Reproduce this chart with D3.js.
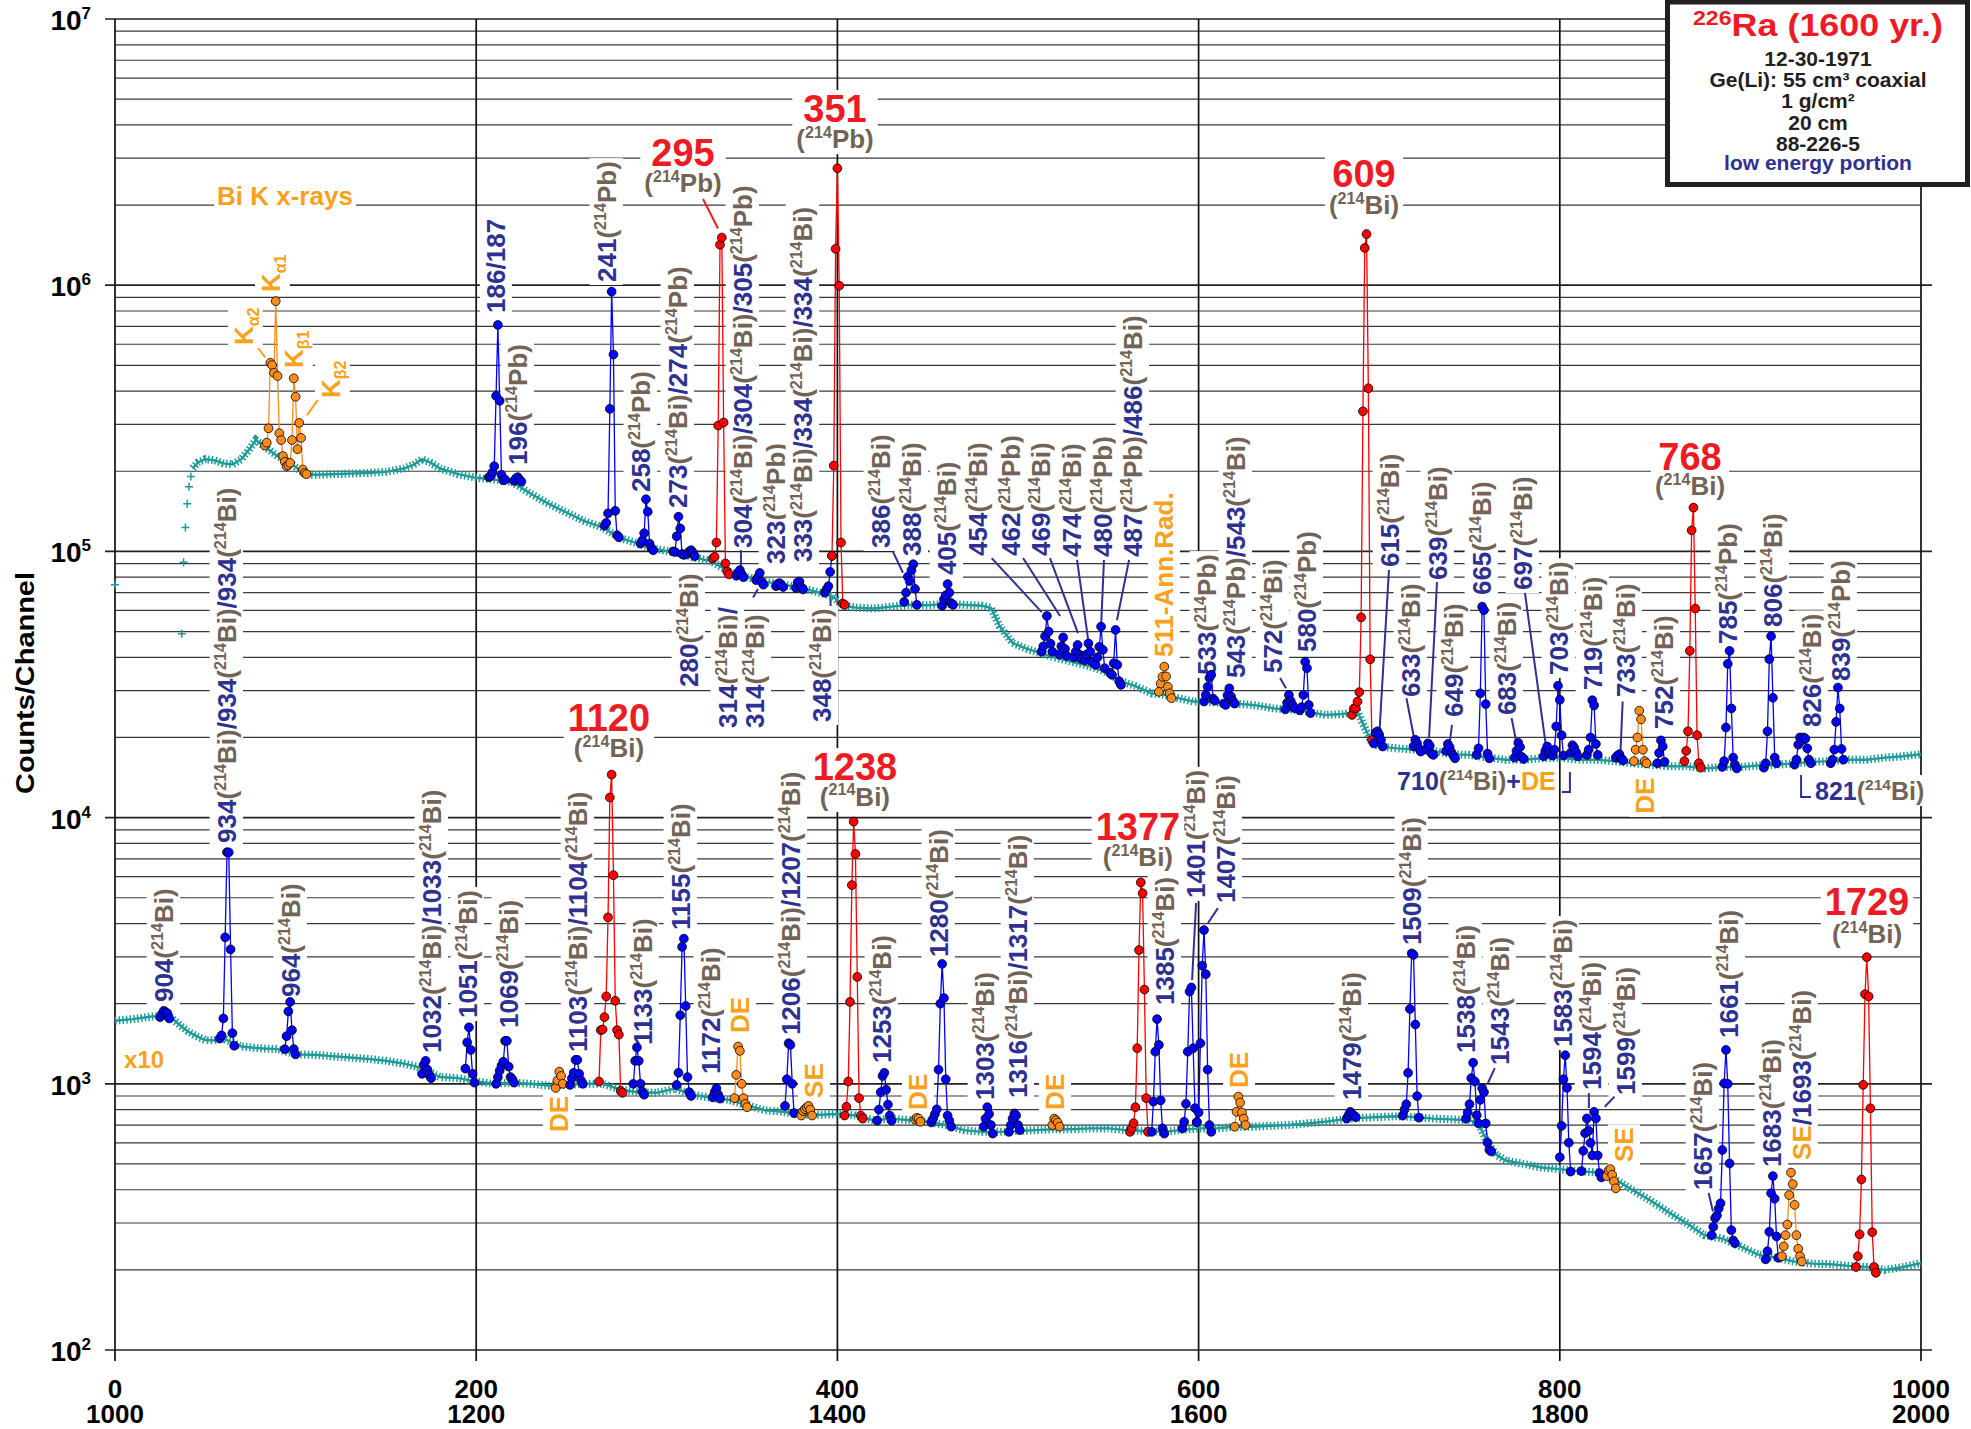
<!DOCTYPE html>
<html lang="en">
<head>
<meta charset="UTF-8">
<title>226Ra gamma spectrum - low energy portion</title>
<style>
  body { margin: 0; background: #fff; }
  svg text { font-family: "Liberation Sans", Arial, Helvetica, sans-serif; font-weight: bold; }
</style>
</head>
<body>
<svg id="chart" width="1971" height="1429"></svg>
<script src="https://cdn.jsdelivr.net/npm/d3@7"></script>
<script>
// ---- data (channel, counts) ----
// upper spectrum, channels 0-1000
const topRise = [[0, 75000], [37, 49000], [38, 91000], [39, 123000], [40, 151000], [41, 175000], [42, 191000]];
const topBase = [[43,205000],[46,216000],[50,222000],[55,220000],[60,214000],[65,212000],[70,222000],[75,245000],[78,262000],[82,250000],[90,228000],[97,215000],[105,196000],[110,194000],[120,195000],[130,196000],[140,197000],[150,199000],[160,205000],[165,211000],[170,222000],[175,215000],[180,205000],[190,195000],[200,189000],[210,186000],[220,182000],[230,165000],[240,151000],[250,140000],[260,130000],[270,123000],[280,112000],[290,107000],[300,102000],[310,99000],[320,95000],[330,92000],[340,84000],[350,80000],[360,77000],[370,75000],[380,73000],[390,70000],[397,68000],[404,62500],[410,61500],[420,61000],[430,62000],[440,63000],[450,62800],[460,63500],[470,63000],[480,62500],[485,61400],[490,52200],[497,45300],[505,43000],[510,42000],[520,40000],[530,38500],[540,37000],[550,35000],[557,32500],[565,31200],[574,29300],[580,29000],[590,28000],[597,27300],[604,27300],[610,27000],[620,26800],[630,26500],[642,25700],[650,25500],[660,25000],[670,24300],[680,24500],[688,25000],[696,19000],[700,18500],[710,18200],[720,18000],[730,17800],[740,17300],[750,17200],[760,16800],[770,16500],[780,16500],[790,16700],[800,16800],[810,16500],[820,16500],[830,16300],[840,16000],[850,15800],[860,15600],[870,15600],[880,15300],[890,15500],[900,15500],[910,15700],[920,15800],[930,16000],[940,16200],[950,16300],[960,16500],[970,16500],[980,16800],[990,17000],[1000,17300]];

// peaks: colour key, first channel, counts in consecutive channels
const topPeaks = [
  {c: "o", ch: 83, v: [250000,256000,290000,511000,501000,469000,871000,456000,278000,262000,228000,217000,209000,211000,215000,262000,447000,381000,242000,304000,267000,203000,197000,195000]},
  {c: "b", ch: 207, v: [190000,192000,198000,209000,384000,709000,368000,194000,185000,186000]},
  {c: "b", ch: 221, v: [184000,188000,190000,186000,183000]},
  {c: "b", ch: 271, v: [125000,128000,139000,343000,946000,549000,142000,115000,113000]},
  {c: "b", ch: 291, v: [107000,110000,117000,157000,141000,107000,103000,101000]},
  {c: "b", ch: 309, v: [100000,99600,114000,135000,122000,97800,97000]},
  {c: "b", ch: 317, v: [98000,100000,101000,99000,96000]},
  {c: "r", ch: 331, v: [94000,95400,108000,297000,1420000,1510000,305000,90200,84000,82000]},
  {c: "b", ch: 344, v: [81000,83000,85000,82000,80000]},
  {c: "b", ch: 355, v: [78000,80000,83000,77000,75000]},
  {c: "b", ch: 366, v: [74000,75500,76000,74500,73500]},
  {c: "b", ch: 377, v: [73000,76500,77000,73400,72000]},
  {c: "b", ch: 393, v: [70000,72000,74000,83800,96200]},
  {c: "r", ch: 397, v: [96200,210000,1370000,2750000,996000,108000,63700,63000]},
  {c: "b", ch: 437, v: [64600,70000,80400,77400,85000,89500,72300,63000]},
  {c: "b", ch: 458, v: [62500,66000,68300,75400,70000,64000,63000]},
  {c: "b", ch: 513, v: [42000,44000,48000,57200,50000,45000,42000]},
  {c: "b", ch: 523, v: [41000,44000,47500,43000,40500]},
  {c: "b", ch: 531, v: [40000,42000,44500,41000,39500]},
  {c: "b", ch: 537, v: [39000,41000,45100,42000,38500]},
  {c: "b", ch: 543, v: [37500,40000,43800,52200,42700,36400]},
  {c: "b", ch: 551, v: [35000,34400,38000,50700,37500,32500,31500]},
  {c: "o", ch: 578, v: [29700,31900,33800,36900,33900,31000,29300,28100]},
  {c: "b", ch: 603, v: [27300,28900,31000,33500,34400,28000,27500]},
  {c: "b", ch: 614, v: [26800,26500,28800,30600,28500,27400,26800]},
  {c: "b", ch: 648, v: [25500,27000,28900,27400,26500,25800]},
  {c: "b", ch: 656, v: [25300,26000,28900,38500,36400,26500,24700]},
  {c: "r", ch: 685, v: [24300,25700,25800,27300,29600,56500,336000,1380000,1556000,410000,39300,19600]},
  {c: "b", ch: 697, v: [19000,20800,21100,20500,19600,18500]},
  {c: "b", ch: 719, v: [18500,19600,19000,18200,17700]},
  {c: "b", ch: 726, v: [18000,19000,18600,17400,17200]},
  {c: "b", ch: 737, v: [17800,18900,18400,17600,17100,16700]},
  {c: "b", ch: 754, v: [17200,18200,29300,62000,60200,26700,17400,16700]},
  {c: "b", ch: 775, v: [16800,17800,19100,18400,16900,16600]},
  {c: "b", ch: 791, v: [17000,17800,18500,17500]},
  {c: "b", ch: 796, v: [17100,18000,22000,31300,27700,20400,17100]},
  {c: "b", ch: 806, v: [17500,18700,18300,17600,17000]},
  {c: "b", ch: 815, v: [17200,18000,20000,27600,26400,18900,17200]},
  {c: "b", ch: 831, v: [16800,17100,17300,16700,16400]},
  {c: "o", ch: 841, v: [16300,18000,20000,25200,23400,18000,16300,16000]},
  {c: "b", ch: 854, v: [16000,17500,19500,18500,16200]},
  {c: "r", ch: 869, v: [16300,17800,21100,42300,120000,146000,61000,20400,16000,15400]},
  {c: "b", ch: 890, v: [15500,16300,21800,37800,42300,25700,16800,15800,15300]},
  {c: "b", ch: 913, v: [15400,16000,21100,39400,48000,28200,16800,16000]},
  {c: "b", ch: 930, v: [15800,16500,18800,20000,19500,20000,19800,18200,16500,16000]},
  {c: "b", ch: 950, v: [16000,16500,18000,22900,30800,25700,18100,16500]}
];

// lower spectrum (x10), channels 1000-2000
const lowBase = [[1000,1726],[1010,1750],[1020,1790],[1030,1800],[1036,1660],[1040,1580],[1045,1510],[1050,1460],[1055,1455],[1060,1480],[1070,1380],[1080,1360],[1090,1350],[1100,1290],[1110,1285],[1120,1270],[1130,1255],[1140,1240],[1150,1220],[1160,1190],[1167,1160],[1175,1100],[1180,1060],[1190,1050],[1200,1020],[1210,1000],[1220,1010],[1230,1000],[1240,985],[1250,990],[1260,1000],[1270,1000],[1280,950],[1290,930],[1300,925],[1310,960],[1320,910],[1330,885],[1340,870],[1350,830],[1360,795],[1370,785],[1380,765],[1390,765],[1400,770],[1410,760],[1420,730],[1430,740],[1440,730],[1450,720],[1460,700],[1470,670],[1480,660],[1490,660],[1500,665],[1510,670],[1520,675],[1530,675],[1540,680],[1550,680],[1560,670],[1570,665],[1580,660],[1590,670],[1600,680],[1610,680],[1620,690],[1630,690],[1640,695],[1650,700],[1660,710],[1670,720],[1680,735],[1690,745],[1700,750],[1710,755],[1720,750],[1730,740],[1740,735],[1750,730],[1755,710],[1760,600],[1765,540],[1770,515],[1780,500],[1790,485],[1800,478],[1810,470],[1820,465],[1830,440],[1840,400],[1850,365],[1860,330],[1870,300],[1880,270],[1890,262],[1900,245],[1910,228],[1920,222],[1930,215],[1940,211],[1950,210],[1960,207],[1970,205],[1980,200],[1990,205],[2000,212]];

const lowPeaks = [
  {c: "b", ch: 1025, v: [1780,1830,1880,1860,1840,1760]},
  {c: "b", ch: 1058, v: [1480,1520,1760,3550,7410,7400,3200,1550,1390]},
  {c: "b", ch: 1094, v: [1350,1510,1870,2030,1590,1350,1290]},
  {c: "b", ch: 1170, v: [1090,1180,1220,1130,1080,1050]},
  {c: "b", ch: 1194, v: [1140,1430,1630,1340,1090,1010]},
  {c: "b", ch: 1211, v: [1000,1060,1120,1170,1210,1450,1450,1160,1060,1040,1010]},
  {c: "o", ch: 1244, v: [965,1030,1110,1070,1000]},
  {c: "b", ch: 1252, v: [990,1050,1100,1230,1230,1090,1030,1000]},
  {c: "r", ch: 1268, v: [1020,1590,1600,1780,2130,4220,11900,14500,6080,2050,1590,1530,940,925]},
  {c: "b", ch: 1287, v: [1000,1220,1370,1220,1000,935,910]},
  {c: "b", ch: 1311, v: [990,1100,1810,3270,3510,1960,1060,930,900]},
  {c: "b", ch: 1331, v: [890,930,962,910,880]},
  {c: "o", ch: 1343, v: [883,1080,1380,1330,1000,883,840,817]},
  {c: "b", ch: 1371, v: [826,1040,1420,1400,1000,776]},
  {c: "o", ch: 1380, v: [760,790,803,815,826,800,760]},
  {c: "r", ch: 1404, v: [760,820,1020,2030,5580,9660,7300,2520,883,760,740]},
  {c: "b", ch: 1422, v: [727,800,930,1070,1100,950,836,760,727]},
  {c: "o", ch: 1443, v: [735,745,740,720]},
  {c: "b", ch: 1452, v: [716,740,770,802,1130,2000,2820,2100,1040,760,727,690]},
  {c: "b", ch: 1481, v: [690,740,817,770,700,650]},
  {c: "b", ch: 1495, v: [660,700,740,774,760,700,670]},
  {c: "o", ch: 1519, v: [700,740,730,715,690]},
  {c: "r", ch: 1562, v: [660,680,711,817,1360,3180,5710,5200,2260,883,660]},
  {c: "b", ch: 1574, v: [660,857,1320,1750,1400,866,680,650]},
  {c: "b", ch: 1591, v: [680,720,841,1320,2220,2300,1360,810,718]},
  {c: "b", ch: 1599, v: [718,780,1420,2780,3780,2580,1130,700,660]},
  {c: "o", ch: 1620, v: [690,785,895,850,780,740,700]},
  {c: "b", ch: 1682, v: [740,762,785,770,760,750]},
  {c: "b", ch: 1713, v: [760,800,838,1100,1910,3090,3050,1670,899,746]},
  {c: "b", ch: 1748, v: [740,780,838,1050,1200,1020,762,710,870,962,930,710,601,565,557]},
  {c: "b", ch: 1800, v: [530,695,1040,1280,966,601,468]},
  {c: "b", ch: 1812, v: [470,560,652,741,666,600,538,785,741,538,462,445]},
  {c: "o", ch: 1826, v: [450,472,478,455,430,405]},
  {c: "b", ch: 1884, v: [270,290,313,320,340,356,564,1004,1340,1000,502,282,258,252]},
  {c: "b", ch: 1914, v: [219,235,278,388,450,370,267,222]},
  {c: "o", ch: 1923, v: [225,245,270,296,382,464,420,351,270,240,225,215]},
  {c: "r", ch: 1964, v: [205,225,272,437,991,2170,2990,2130,809,277,205,195]}
];

// rotated peak labels: text, channel, log10(counts) where the text starts
const topTags = [
  ["186/187", 215.9, 5.896], ["196(^214Pb)", 228.1, 5.325], ["241(^214Pb)", 277.4, 6.012],
  ["258(^214Pb)", 296.2, 5.223], ["273(^214Bi)/274(^214Pb)", 316.7, 5.163], ["280(^214Bi)", 322.8, 4.491],
  ["304(^214Bi)/304(^214Bi)/305(^214Pb)", 352.7, 5.013], ["314(^214Bi)/", 344.4, 4.337], ["314(^214Bi)", 359.4, 4.337],
  ["323(^214Pb)", 371.0, 4.953], ["333(^214Bi)/334(^214Bi)/334(^214Bi)", 386.0, 4.960], ["348(^214Bi)", 396.5, 4.359],
  ["386(^214Bi)", 429.1, 5.013], ["388(^214Bi)", 446.3, 4.983], ["405(^214Bi)", 465.7, 4.911],
  ["454(^214Bi)", 482.8, 4.983], ["462(^214Pb)", 501.1, 4.983], ["469(^214Bi)", 517.7, 4.983],
  ["474(^214Bi)", 534.9, 4.979], ["480(^214Pb)", 552.0, 4.979], ["487(^214Pb)/486(^214Bi)", 568.7, 4.979],
  ["511-Ann.Rad.", 585.8, 4.603, "o"], ["533(^214Pb)", 609.6, 4.536], ["543(^214Pb)/543(^214Bi)", 625.7, 4.524],
  ["572(^214Bi)", 646.2, 4.543], ["580(^214Pb)", 665.0, 4.622], ["615(^214Bi)", 711.0, 4.941],
  ["633(^214Bi)", 722.6, 4.453], ["639(^214Bi)", 737.5, 4.893], ["649(^214Bi)", 746.4, 4.378],
  ["665(^214Bi)", 761.9, 4.836], ["683(^214Bi)", 775.7, 4.385], ["697(^214Bi)", 784.6, 4.855],
  ["703(^214Bi)", 804.5, 4.536], ["719(^214Bi)", 823.4, 4.479], ["733(^214Bi)", 841.6, 4.453],
  ["DE", 852.2, 4.014], ["752(^214Bi)", 862.7, 4.333], ["785(^214Pb)", 898.1, 4.652],
  ["806(^214Bi)", 923.0, 4.716], ["826(^214Bi)", 944.6, 4.340], ["839(^214Pb)", 960.7, 4.513],
  ["K_α1", 91.4, 5.974, "o"], ["K_α2", 76.4, 5.775, "o"], ["K_β1", 104.1, 5.689, "o"], ["K_β2", 124.6, 5.576, "o"]
];
const lowTags = [
  ["904(^214Bi)", 1032.1, 3.307], ["934(^214Bi)/934(^214Bi)/934(^214Bi)", 1067.0, 3.905], ["964(^214Bi)", 1102.4, 3.326],
  ["1032(^214Bi)/1033(^214Bi)", 1180.5, 3.116], ["1051(^214Bi)", 1200.4, 3.247], ["1069(^214Bi)", 1223.1, 3.210],
  ["DE", 1250.8, 2.819], ["1103(^214Bi)/1104(^214Bi)", 1261.4, 3.119], ["1133(^214Bi)", 1297.3, 3.146],
  ["1155(^214Bi)", 1318.4, 3.578], ["1172(^214Bi)", 1335.0, 3.037], ["DE", 1351.1, 3.191],
  ["1206(^214Bi)/1207(^214Bi)", 1379.3, 3.183], ["SE", 1392.0, 2.947], ["1253(^214Bi)", 1429.7, 3.078],
  ["DE", 1449.6, 2.902], ["1280(^214Bi)", 1461.2, 3.476], ["1303(^214Bi)", 1486.7, 2.939],
  ["1316(^214Bi)/1317(^214Bi)", 1505.0, 2.947], ["DE", 1525.5, 2.902], ["1385(^214Bi)", 1586.4, 3.296],
  ["1401(^214Bi)", 1603.5, 3.698], ["1407(^214Bi)", 1620.2, 3.679], ["DE", 1627.4, 2.984],
  ["1479(^214Bi)", 1689.9, 2.939], ["1509(^214Bi)", 1723.1, 3.521], ["1538(^214Bi)", 1753.0, 3.116],
  ["1543(^214Bi)", 1771.9, 3.071], ["1583(^214Bi)", 1806.8, 3.138], ["1594(^214Bi)", 1822.8, 2.977],
  ["1599(^214Bi)", 1841.6, 2.958], ["SE", 1840.5, 2.706], ["1657(^214Bi)", 1884.3, 2.601],
  ["1661(^214Bi)", 1898.7, 3.172], ["1683(^214Bi)", 1922.5, 2.687], ["SE/1693(^214Bi)", 1939.1, 2.714]
];

// main lines: energy (keV), nuclide, channel, log10 of the two text baselines
const topMain = [["295", "Pb", 314.5, 6.448, 6.35], ["351", "Pb", 398.7, 6.613, 6.515], ["609", "Bi", 691.6, 6.369, 6.267], ["768", "Bi", 872.1, 5.306, 5.212]];
const lowMain = [["1120", "Bi", 1273.5, 4.325, 4.228], ["1238", "Bi", 1409.7, 4.141, 4.044], ["1377", "Bi", 1566.4, 3.916, 3.818], ["1729", "Bi", 1970.1, 3.634, 3.529]];

// leader lines: colour, ch1, lg1, ch2, lg2
const topLeaders = [["o",79.2,5.764,83.1,5.730],["o",106.3,5.512,112.4,5.569],["r",325.6,6.324,333.9,6.213],
  ["b",346.6,5.005,346.6,4.920],["b",353.3,4.827,356.0,4.859],["b",396.2,4.836,396.2,4.795],["b",430.8,4.998,436.3,4.920],
  ["b",485.4,4.975,513.1,4.772],["b",502.8,4.975,523.3,4.757],["b",517.7,4.975,533.2,4.693],["b",532.7,4.968,539.1,4.656],
  ["b",547.6,4.968,546.0,4.716],["b",561.5,4.968,554.8,4.742],["b",645.1,4.524,648.4,4.486],["b",705.4,4.930,700.2,4.329],
  ["b",715.1,4.449,719.3,4.299],["b",732.0,4.885,727.6,4.299],["b",740.3,4.348,739.0,4.280],["b",773.3,4.374,775.7,4.291],
  ["b",780.7,4.844,792.4,4.265],["b",834.8,4.436,833.6,4.246]];
const lowLeaders = [["b",1598.6,3.679,1596.4,3.390],["b",1610.7,3.660,1605.2,3.604],["b",1764.0,3.059,1760.2,3.003],
  ["b",1816.1,2.965,1816.1,2.909],["b",1830.3,2.952,1824.9,2.914],["b",1882.4,2.590,1884.8,2.520]];

const xTicks = [0, 200, 400, 600, 800, 1000];
const legendLines = ["12-30-1971", "Ge(Li): 55 cm³ coaxial", "1 g/cm²", "20 cm", "88-226-5"];

// ---- drawing ----
const COL = {b: "#2e3192", n: "#736357", r: "#ed1c24", o: "#f9a11b", k: "#231f20"};
const MARK = {b: "#0000ff", r: "#ff0000", o: "#ff8c1a"};
const TEAL = "#1f9a9a";

const svg = d3.select("#chart");
const x = d3.scaleLinear().domain([0, 1000]).range([115, 1921]);
const xLow = d3.scaleLinear().domain([1000, 2000]).range([115, 1921]);
const y = d3.scaleLog().domain([1e2, 1e7]).range([1350, 19]);
const ly = lg => y(Math.pow(10, lg));

// grid
const yGrid = [];
for (let n = 2; n < 7; n++) for (let k = 1; k < 10; k++) yGrid.push(k * Math.pow(10, n));
yGrid.push(1e7);
const isMajor = d => Math.abs(Math.log10(d) - Math.round(Math.log10(d))) < 1e-9;

const grid = svg.append("g");
grid.selectAll("line.h").data(yGrid).join("line")
  .attr("x1", d => isMajor(d) ? 105 : 115)
  .attr("x2", d => isMajor(d) ? 1932 : 1921)
  .attr("y1", d => y(d)).attr("y2", d => y(d))
  .attr("stroke", d => isMajor(d) ? "#222" : "#3a3a3a")
  .attr("stroke-width", d => isMajor(d) ? 1.7 : 1.2);
grid.selectAll("line.v").data(xTicks).join("line")
  .attr("x1", d => x(d)).attr("x2", d => x(d))
  .attr("y1", y(1e7)).attr("y2", 1361)
  .attr("stroke", "#111").attr("stroke-width", 1.7);

// y tick labels
const yl = svg.append("g");
yGrid.filter(isMajor).forEach(d => {
  const t = yl.append("text").attr("x", 91).attr("y", y(d) + 11)
    .attr("text-anchor", "end").style("font-size", "28px").attr("fill", "#000");
  t.append("tspan").text("10");
  t.append("tspan").text(Math.round(Math.log10(d))).style("font-size", "17px").attr("dy", -11);
});
// x tick labels
xTicks.forEach(d => {
  svg.append("text").attr("x", x(d)).attr("y", 1398).attr("text-anchor", "middle")
    .style("font-size", "26px").text(d);
  svg.append("text").attr("x", x(d)).attr("y", 1423).attr("text-anchor", "middle")
    .style("font-size", "26px").text(d + 1000);
});
svg.append("text").attr("transform", "translate(34,683) rotate(-90)").attr("text-anchor", "middle")
  .style("font-size", "26px").attr("fill", "#000")
  .attr("textLength", 222).attr("lengthAdjust", "spacingAndGlyphs").text("Counts/Channel");

// rich text: digits in base colour, (^214Bi) in brown, DE/SE orange
function rich(t, str, fs, base) {
  const segs = [];
  let paren = false;
  for (let i = 0; i < str.length;) {
    const c = str[i];
    let s, sup = 0, col;
    if (c === "^" || c === "_") {
      let j = i + 1;
      while (j < str.length && /[0-9αβ]/.test(str[j])) j++;
      s = str.slice(i + 1, j); sup = c === "^" ? 1 : -1; i = j;
      col = paren ? COL.n : base;
    } else if (!paren && (str.startsWith("DE", i) || str.startsWith("SE", i))) {
      s = str.substr(i, 2); col = COL.o; i += 2;
    } else {
      s = c; i++;
      if (c === "(") paren = true;
      col = paren ? COL.n : base;
      if (c === ")") paren = false;
    }
    const last = segs[segs.length - 1];
    if (last && last.col === col && last.sup === sup) last.s += s;
    else segs.push({s, col, sup});
  }
  let shift = 0;
  segs.forEach(g => {
    const target = g.sup === 1 ? -0.4 * fs : g.sup === -1 ? 0.22 * fs : 0;
    const ts = t.append("tspan").text(g.s).attr("fill", g.col);
    if (target - shift !== 0) ts.attr("dy", target - shift);
    if (g.sup) ts.style("font-size", (0.62 * fs) + "px");
    shift = target;
  });
}

function tag(layer, str, X, Y, opt) {
  const fs = opt.fs || 26;
  const g = layer.append("g").attr("transform", `translate(${X},${Y})` + (opt.rot ? " rotate(-90)" : ""));
  const bg = g.append("rect").attr("fill", "#fff");
  const t = g.append("text").style("font-size", fs + "px").attr("text-anchor", opt.anchor || "start");
  rich(t, str, fs, opt.col || COL.b);
  const b = t.node().getBBox();
  bg.attr("x", b.x - 3).attr("y", b.y - 1).attr("width", b.width + 6).attr("height", b.height + 2);
}

function mainTag(layer, e, iso, X, Y1, Y2) {
  const g = layer.append("g");
  const bg = g.append("rect").attr("fill", "#fff");
  const t1 = g.append("text").attr("x", X).attr("y", Y1).attr("text-anchor", "middle")
    .style("font-size", "38px").attr("fill", COL.r).text(e);
  const t2 = g.append("text").attr("x", X).attr("y", Y2).attr("text-anchor", "middle").style("font-size", "26px");
  rich(t2, "(^214" + iso + ")", 26, COL.n);
  const a = t1.node().getBBox(), b = t2.node().getBBox();
  const x0 = Math.min(a.x, b.x) - 4, x1 = Math.max(a.x + a.width, b.x + b.width) + 4;
  bg.attr("x", x0).attr("y", a.y + 2).attr("width", x1 - x0).attr("height", b.y + b.height - a.y - 2);
}

const labels = svg.append("g");
topTags.forEach(d => tag(labels, d[0], x(d[1]), ly(d[2]), {rot: true, col: d[3] ? COL[d[3]] : COL.b}));
lowTags.forEach(d => tag(labels, d[0], xLow(d[1]), ly(d[2]), {rot: true}));
topMain.forEach(d => mainTag(labels, d[0], d[1], x(d[2]), ly(d[3]), ly(d[4])));
lowMain.forEach(d => mainTag(labels, d[0], d[1], xLow(d[2]), ly(d[3]), ly(d[4])));
tag(labels, "Bi K x-rays", x(94.1), ly(6.301), {col: COL.o, anchor: "middle", fs: 26});
tag(labels, "x10", x(5), ly(3.059), {col: COL.o, fs: 24});
tag(labels, "710(^214Bi)+DE", x(709.9), ly(4.104), {fs: 25});
tag(labels, "821(^214Bi)", x(941.3), ly(4.066), {fs: 25});

// leader lines and brackets
const leaders = svg.append("g").attr("stroke-width", 2).attr("fill", "none");
topLeaders.forEach(d => leaders.append("line").attr("stroke", COL[d[0]])
  .attr("x1", x(d[1])).attr("y1", ly(d[2])).attr("x2", x(d[3])).attr("y2", ly(d[4])));
lowLeaders.forEach(d => leaders.append("line").attr("stroke", COL[d[0]])
  .attr("x1", xLow(d[1])).attr("y1", ly(d[2])).attr("x2", xLow(d[3])).attr("y2", ly(d[4])));
leaders.append("path").attr("stroke", COL.b)
  .attr("d", `M${x(801.2)},${ly(4.096)}H${x(805.6)}V${ly(4.171)}`);
leaders.append("path").attr("stroke", COL.b)
  .attr("d", `M${x(933.6)},${ly(4.160)}V${ly(4.077)}H${x(939.1)}`);

// spectra
function drawSpectrum(xs, base, peaks) {
  const layer = svg.append("g");
  const line = d3.line().x(d => xs(d[0])).y(d => y(d[1]));
  layer.append("path").attr("d", line(base)).attr("fill", "none")
    .attr("stroke", TEAL).attr("stroke-width", 2.4);
  layer.append("path").attr("d", line(base)).attr("fill", "none")
    .attr("stroke", TEAL).attr("stroke-width", 8).attr("stroke-dasharray", "1.5 2.2");
  peaks.forEach(p => {
    const pts = p.v.map((v, i) => [p.ch + i, v]);
    const g = layer.append("g");
    g.append("path").attr("d", line(pts)).attr("fill", "none")
      .attr("stroke", MARK[p.c]).attr("stroke-width", 1.3);
    g.selectAll("circle").data(pts).join("circle")
      .attr("cx", d => xs(d[0])).attr("cy", d => y(d[1])).attr("r", 4.4)
      .attr("fill", MARK[p.c]).attr("stroke", "#000").attr("stroke-width", 0.8);
  });
  return layer;
}
const up = drawSpectrum(x, topBase, topPeaks);
up.selectAll("path.rise").data(topRise).join("path").attr("class", "rise")
  .attr("transform", d => `translate(${x(d[0])},${y(d[1])})`)
  .attr("d", "M-4,0H4M0,-4V4").attr("stroke", TEAL).attr("stroke-width", 1.5);
drawSpectrum(xLow, lowBase, lowPeaks);

// legend box
const lg = svg.append("g");
lg.append("rect").attr("x", 1667.5).attr("y", 2).attr("width", 300).attr("height", 182.5)
  .attr("fill", "#fff").attr("stroke", COL.k).attr("stroke-width", 5);
const title = lg.append("text").attr("x", 1818).attr("y", 36).attr("text-anchor", "middle")
  .style("font-size", "31px").attr("fill", COL.r)
  .attr("textLength", 250).attr("lengthAdjust", "spacingAndGlyphs");
title.append("tspan").text("226").style("font-size", "20px").attr("dy", -11);
title.append("tspan").text("Ra (1600 yr.)").attr("dy", 11);
legendLines.forEach((s, i) => lg.append("text").attr("x", 1818).attr("y", 66 + i * 21.2)
  .attr("text-anchor", "middle").style("font-size", "21px").attr("fill", COL.k).text(s));
lg.append("text").attr("x", 1818).attr("y", 170).attr("text-anchor", "middle")
  .style("font-size", "21px").attr("fill", COL.b).text("low energy portion");
</script>
</body>
</html>
